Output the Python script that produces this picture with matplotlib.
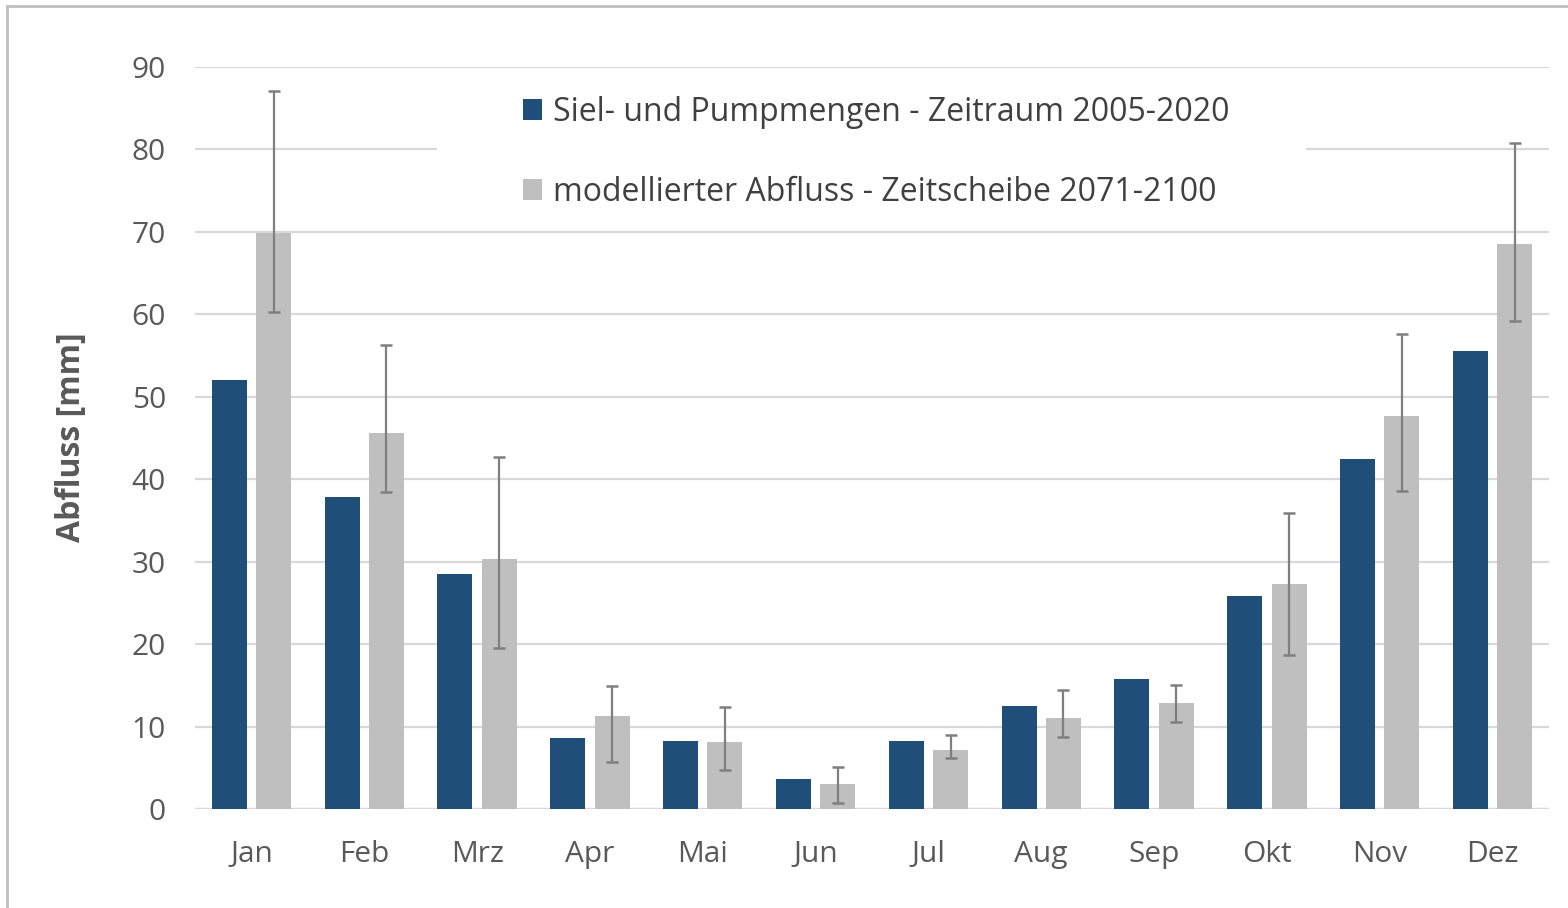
import matplotlib
matplotlib.use("Agg")
import matplotlib.pyplot as plt
import numpy as np
from matplotlib.patches import Patch, Rectangle
from matplotlib.lines import Line2D

months = ["Jan", "Feb", "Mrz", "Apr", "Mai", "Jun", "Jul", "Aug", "Sep", "Okt", "Nov", "Dez"]
siel_pump = [52.0, 37.8, 28.5, 8.6, 8.25, 3.6, 8.25, 12.5, 15.8, 25.8, 42.5, 55.6]
modell = [69.9, 45.6, 30.3, 11.3, 8.1, 3.0, 7.2, 11.0, 12.9, 27.3, 47.7, 68.5]
modell_low = [60.3, 38.5, 19.5, 5.7, 4.7, 0.7, 6.2, 8.7, 10.6, 18.7, 38.6, 59.2]
modell_high = [87.1, 56.3, 42.7, 14.9, 12.4, 5.1, 9.0, 14.4, 15.0, 35.9, 57.6, 80.8]
label_siel = "Siel- und Pumpmengen - Zeitraum 2005-2020"
label_mod = "modellierter Abfluss - Zeitscheibe 2071-2100"
ylabel = "Abfluss [mm]"
yticks = [0, 10, 20, 30, 40, 50, 60, 70, 80, 90]

plt.rcParams['font.family'] = ['Open Sans', 'DejaVu Sans']

W, H = 1568, 908
fig = plt.figure(figsize=(W / 100, H / 100), dpi=100)
ax = fig.add_axes([195 / W, 1 - 809 / H, (1549 - 195) / W, (809 - 67) / H])

blue = "#1F4E79"
gray = "#BFBFBF"
x = np.arange(len(months))
bw = 0.31
off = 0.197
ax.bar(x - off, siel_pump, width=bw, color=blue, zorder=3)
ax.bar(x + off, modell, width=bw, color=gray, zorder=3)
mod = np.array(modell)
yerr = [mod - np.array(modell_low), np.array(modell_high) - mod]
ax.errorbar(x + off, mod, yerr=yerr, fmt="none", ecolor="#7F7F7F",
            elinewidth=1.6, capsize=4, capthick=1.8, zorder=4)

ax.set_xlim(-0.5, len(months) - 0.5)
ax.set_ylim(0, 90)
ax.set_yticks(yticks)
ax.set_xticks(x)
ax.set_xticklabels(months)
ax.yaxis.grid(True, color="#D9D9D9", linewidth=1.6, zorder=0)
ax.set_axisbelow(True)
for s in ax.spines.values():
    s.set_visible(False)
ax.axhline(0, color="#D9D9D9", linewidth=1.6, zorder=2)
ax.tick_params(axis="both", length=0, labelsize=21.5, colors="#595959")
ax.tick_params(axis="y", pad=21)
ax.tick_params(axis="x", pad=22)
ax.set_ylabel(ylabel, fontsize=23, fontweight="bold", color="#595959")
ax.yaxis.set_label_coords(88 / W, 1 - 437 / H, transform=fig.transFigure)

# white legend background occluding gridline
ax.add_patch(Rectangle((437 / W, 1 - 205 / H), (1306 - 437) / W, (205 - 88) / H,
                       transform=fig.transFigure, facecolor="white", edgecolor="none", zorder=1))

handles = [Patch(facecolor=blue), Patch(facecolor=gray)]
leg = fig.legend(handles, [label_siel, label_mod], loc="upper left",
                 bbox_to_anchor=(494 / W, 1 - 67 / H), frameon=False,
                 fontsize=23, labelspacing=1.47, handlelength=0.6, handleheight=0.6,
                 handletextpad=0.35, labelcolor="#404040")

# outer frame
fig.add_artist(Line2D([7 / W, 7 / W], [0, 1 - 6 / H], color="#BFBFBF", linewidth=2, transform=fig.transFigure))
fig.add_artist(Line2D([7 / W, 1], [1 - 6 / H, 1 - 6 / H], color="#BFBFBF", linewidth=2, transform=fig.transFigure))

fig.savefig("out.png", dpi=100)
